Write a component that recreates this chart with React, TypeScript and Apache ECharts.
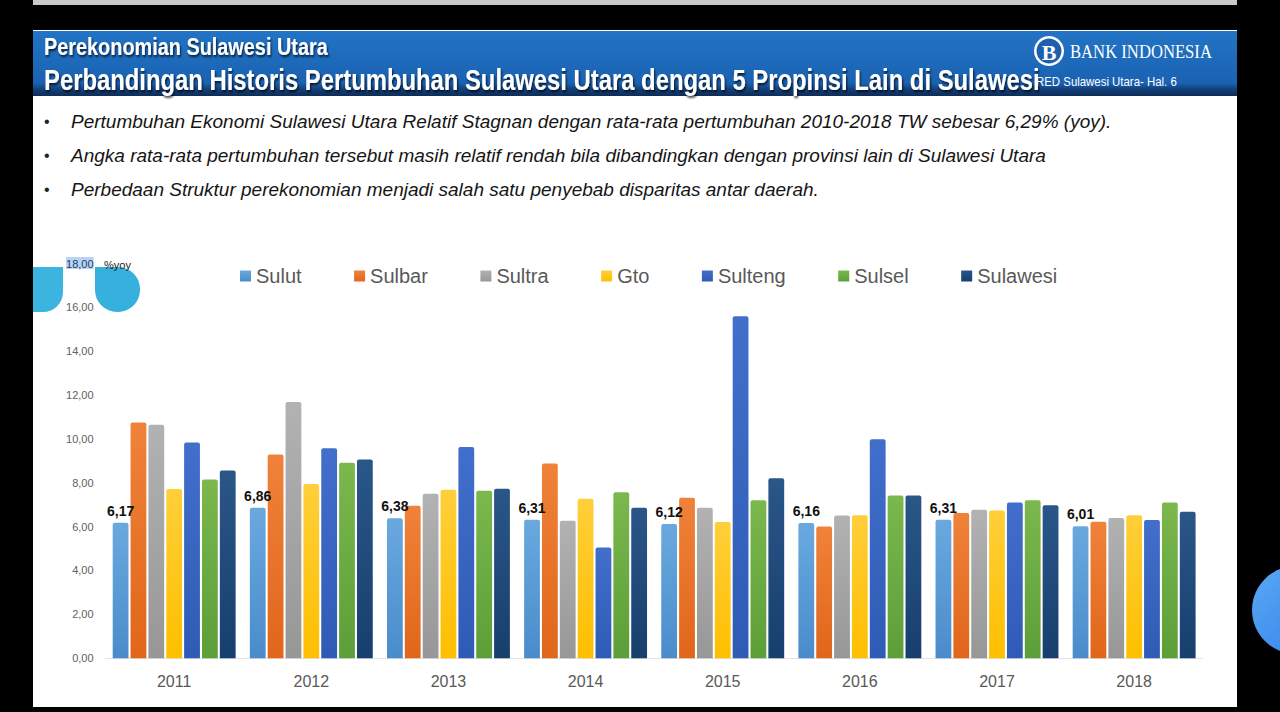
import React, { useEffect, useRef } from "react";
import * as echarts from "echarts";

const years = ["2011", "2012", "2013", "2014", "2015", "2016", "2017", "2018"];
const seriesNames = ["Sulut", "Sulbar", "Sultra", "Gto", "Sulteng", "Sulsel", "Sulawesi"];
const sulut = [6.17, 6.86, 6.38, 6.31, 6.12, 6.16, 6.31, 6.01];
const sulbar = [10.74, 9.28, 6.95, 8.87, 7.31, 6.0, 6.62, 6.22];
const sultra = [10.64, 11.67, 7.49, 6.26, 6.86, 6.5, 6.76, 6.39];
const gto = [7.71, 7.94, 7.68, 7.27, 6.21, 6.51, 6.73, 6.51];
const sulteng = [9.83, 9.57, 9.62, 5.05, 15.57, 9.97, 7.1, 6.3];
const sulsel = [8.14, 8.9, 7.63, 7.56, 7.2, 7.41, 7.2, 7.09];
const sulawesi = [8.55, 9.05, 7.72, 6.86, 8.2, 7.41, 6.97, 6.67];
const yTicks = [0, 2, 4, 6, 8, 10, 12, 14, 16, 18];

const headerTitle = "Perekonomian Sulawesi Utara";
const headerSubtitle = "Perbandingan Historis Pertumbuhan Sulawesi Utara dengan 5 Propinsi Lain di Sulawesi";
const bullets = [
  "Pertumbuhan Ekonomi Sulawesi Utara Relatif Stagnan dengan rata-rata pertumbuhan 2010-2018 TW sebesar 6,29% (yoy).",
  "Angka rata-rata pertumbuhan tersebut masih relatif rendah bila dibandingkan dengan provinsi lain di Sulawesi Utara",
  "Perbedaan Struktur perekonomian menjadi salah satu penyebab disparitas antar daerah.",
];

const allData = [sulut, sulbar, sultra, gto, sulteng, sulsel, sulawesi];
const gradColors: [string, string][] = [
  ["#6aa9df", "#4a8ccb"],
  ["#f0823a", "#e0661a"],
  ["#b2b2b2", "#979797"],
  ["#ffcf3a", "#ffbf00"],
  ["#416fcb", "#2d5bb5"],
  ["#7bb84e", "#5c9e38"],
  ["#2a5688", "#173f6e"],
];

const fmt = (v: number) => v.toFixed(2).replace(".", ",");
const sans = '"Liberation Sans", Arial, sans-serif';
const serif = '"Liberation Serif", serif';

function measure(text: string, font: string): number {
  const c = document.createElement("canvas");
  const ctx = c.getContext("2d")!;
  ctx.font = font;
  return ctx.measureText(text).width;
}

export default function App() {
  const ref = useRef<HTMLDivElement>(null);
  useEffect(() => {
    document.body.style.margin = "0";
    const chart = echarts.init(ref.current!, undefined, { renderer: "svg" });
    const series = seriesNames.map((name, i) => ({
      name,
      type: "bar",
      data: allData[i],
      barWidth: 15.8,
      barGap: "13%",
      itemStyle: {
        borderRadius: [2, 2, 0, 0],
        color: new echarts.graphic.LinearGradient(0, 0, 0, 1, [
          { offset: 0, color: gradColors[i][0] },
          { offset: 1, color: gradColors[i][1] },
        ]),
      },
      label:
        i === 0
          ? {
              show: true,
              position: "top",
              distance: 5,
              formatter: (p: any) => fmt(p.value),
              fontWeight: "bold",
              fontSize: 14,
              color: "#111",
              fontFamily: sans,
            }
          : { show: false },
      z: 5,
    }));

    const fitted = (text: string, x: number, y: number, width: number, size: number, weight: string, family: string, extra: any = {}) => {
      const w = measure(text, `${weight} ${size}px ${family}`);
      return {
        type: "text",
        z: 3,
        x,
        y,
        scaleX: width / w,
        style: {
          text,
          fill: "#fff",
          fontSize: size,
          fontWeight: weight,
          fontFamily: family,
          verticalAlign: "middle",
          ...extra,
        },
      };
    };
    const shadow = {
      textShadowColor: "rgba(0,0,0,0.75)",
      textShadowOffsetX: 1,
      textShadowOffsetY: 2,
      textShadowBlur: 2,
    };

    const bulletGraphics: any[] = [];
    bullets.forEach((t, i) => {
      const y = 121 + i * 34;
      bulletGraphics.push({
        type: "text",
        x: 44,
        y,
        style: { text: "•", fill: "#222", fontSize: 16, fontFamily: sans, verticalAlign: "middle" },
      });
      bulletGraphics.push({
        type: "text",
        x: 71,
        y,
        style: {
          text: t,
          fill: "#151515",
          fontSize: 19,
          fontStyle: "italic",
          fontFamily: sans,
          verticalAlign: "middle",
        },
      });
    });

    chart.setOption({
      animation: false,
      backgroundColor: "#000",
      graphic: [
        { type: "rect", z: 0, shape: { x: 33, y: 0, width: 1204, height: 5 }, style: { fill: "#c9c9c9" } },
        { type: "rect", z: 0, shape: { x: 33, y: 30, width: 1204, height: 677 }, style: { fill: "#fff" } },
        {
          type: "rect",
          z: 1,
          shape: { x: 33, y: 31, width: 1204, height: 65 },
          style: {
            fill: new echarts.graphic.LinearGradient(0, 0, 0, 1, [
              { offset: 0, color: "#2274c6" },
              { offset: 0.8, color: "#1a62b2" },
              { offset: 0.9, color: "#133f78" },
              { offset: 1, color: "#0d2c58" },
            ]),
          },
        },
        fitted(headerTitle, 44, 48, 284, 23, "bold", sans, shadow),
        fitted(headerSubtitle, 44, 80, 996, 29, "bold", sans, shadow),
        { type: "circle", z: 2, shape: { cx: 1049, cy: 51, r: 15 }, style: { fill: "#fff" } },
        { type: "circle", z: 2, shape: { cx: 1049, cy: 51, r: 12.5 }, style: { fill: "#1d5fae" } },
        {
          type: "text",
          z: 3,
          x: 1049,
          y: 52,
          style: {
            text: "B",
            fill: "#fff",
            fontSize: 22,
            fontWeight: "bold",
            fontFamily: serif,
            align: "center",
            verticalAlign: "middle",
          },
        },
        fitted("BANK INDONESIA", 1070, 52, 142, 19, "normal", serif, {
          textShadowColor: "rgba(0,0,0,0.5)",
          textShadowOffsetX: 1,
          textShadowOffsetY: 1,
        }),
        fitted("RED Sulawesi Utara- Hal. 6", 1036, 81, 141, 12, "normal", sans),
        ...bulletGraphics,
        {
          type: "rect",
          z: 1,
          shape: { x: 33, y: 267, width: 30, height: 45, r: [0, 0, 20, 0] },
          style: { fill: "#3cb4e0" },
        },
        {
          type: "rect",
          z: 1,
          shape: { x: 95, y: 267, width: 45, height: 45, r: [0, 22, 22, 22] },
          style: { fill: "#36b0dc" },
        },
        {
          type: "text",
          z: 3,
          x: 104,
          y: 265,
          style: { text: "%yoy", fill: "#222", fontSize: 11, fontFamily: sans, verticalAlign: "middle" },
        },
        {
          type: "circle",
          z: 1,
          shape: { cx: 1296, cy: 610, r: 44 },
          style: {
            fill: new echarts.graphic.LinearGradient(0, 0, 1, 1, [
              { offset: 0, color: "#5aa8f5" },
              { offset: 1, color: "#2f80e8" },
            ]),
          },
        },
      ],
      legend: {
        data: seriesNames,
        left: 235,
        top: 261,
        itemWidth: 11,
        itemHeight: 11,
        icon: "rect",
        itemGap: 52.5,
        textStyle: { fontSize: 20, color: "#595959", fontFamily: sans },
      },
      grid: { left: 105.6, right: 77.3, top: 263, bottom: 53.7, containLabel: false },
      xAxis: {
        type: "category",
        data: years,
        axisTick: { show: false },
        axisLine: { show: true, lineStyle: { color: "#e3e3e3" } },
        axisLabel: { color: "#595959", fontSize: 16, margin: 15, fontFamily: sans },
      },
      yAxis: {
        type: "value",
        min: yTicks[0],
        max: yTicks[yTicks.length - 1],
        interval: 2,
        splitLine: { show: false },
        axisLine: { show: false },
        axisTick: { show: false },
        axisLabel: {
          margin: 12,
          color: "#606060",
          fontSize: 11,
          fontFamily: sans,
          formatter: (v: number) => (v === 18 ? "{hl|" + fmt(v) + "}" : fmt(v)),
          rich: {
            hl: { backgroundColor: "#b7d5f2", color: "#1d3c6e", fontSize: 11, padding: [1, 0, 0, 0] },
          },
        },
      },
      series,
    });
    return () => chart.dispose();
  }, []);
  return (
    <div
      ref={ref}
      style={{ position: "fixed", left: 0, top: 0, width: 1280, height: 712, background: "#000" }}
    />
  );
}
